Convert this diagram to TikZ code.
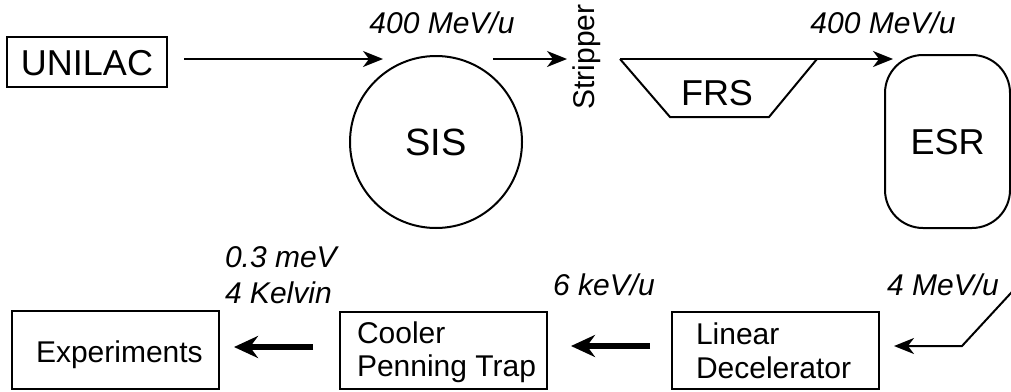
\documentclass[tikz,border=0pt]{standalone}
\usepackage{fontspec}
\setmainfont{Liberation Sans}
\usetikzlibrary{arrows.meta}
\begin{document}
\begin{tikzpicture}[x=1pt,y=-1pt,line width=2pt,
  box/.style={draw,line width=2pt,inner sep=0pt},
  lbl/.style={font=\fontsize{30}{36}\selectfont,inner sep=0pt},
  ital/.style={font=\fontsize{30}{36}\selectfont\itshape,inner sep=0pt},
  big/.style={font=\fontsize{36}{43}\selectfont,text height=26pt,text depth=0pt},
  arr/.style={line width=2pt,-{Stealth[length=20pt,width=16pt,inset=6pt]}},
  thickarr/.style={line width=6pt,-{Stealth[length=24pt,width=22pt,inset=8pt]}}]
\useasboundingbox (0,0) rectangle (1011,391);
\clip (0,0) rectangle (1011,391);
% top row
\node[box,big,minimum width=160pt,minimum height=50pt] (unilac) at (87,62) {UNILAC};
\node[circle,draw,line width=2pt,minimum size=172pt,inner sep=0pt,font=\fontsize{38}{46}\selectfont,text height=27pt,text depth=0pt] (sis) at (436,142) {SIS};
\node[draw,line width=2pt,rounded corners=38pt,minimum width=125pt,minimum height=173pt,inner sep=0pt,big] (esr) at (947.5,141.5) {ESR};
\node[lbl,rotate=90,anchor=base] (stripper) at (594,57) {Stripper};
% FRS trapezoid
\coordinate (frsTL) at (620,59);
\coordinate (frsBL) at (670,117);
\coordinate (frsBR) at (769,117);
\coordinate (frsTR) at (817,59);
\draw[line width=2pt,line join=miter] (frsTL) -- (frsBL) -- (frsBR) -- (frsTR);
\node[big,inner sep=0pt] (frs) at (717,92) {FRS};
% top arrows
\coordinate (a1s) at (184,59);
\coordinate (a1e) at (383,59);
\draw[arr] (a1s) -- (a1e);
\coordinate (a2s) at (493,59);
\coordinate (a2e) at (567,59);
\draw[arr] (a2s) -- (a2e);
\coordinate (a3e) at (893,59);
\draw[arr] (frsTL) -- (a3e);
\node[ital,anchor=base] (e1) at (442,33) {400 MeV/u};
\node[ital,anchor=base] (e2) at (883,33) {400 MeV/u};
% bottom row
\node[box,minimum width=207pt,minimum height=78pt] (exp) at (115.5,350) {};
\node[lbl,anchor=base west] at (35,362.5) {Experiments};
\node[box,minimum width=207pt,minimum height=77pt] (cool) at (443.5,350.5) {};
\node[lbl,anchor=base west] at (356,343) {Cooler};
\node[lbl,anchor=base west] at (356,376) {Penning Trap};
\node[box,minimum width=207pt,minimum height=77pt] (lin) at (775.5,350.5) {};
\node[lbl,anchor=base west] at (695,344) {Linear};
\node[lbl,anchor=base west] at (695,378) {Decelerator};
% bottom arrows
\coordinate (r0) at (1022,281);
\coordinate (r1) at (962,346);
\coordinate (r2) at (894,346);
\draw[arr,line join=miter] (r0) -- (r1) -- (r2);
\coordinate (b1s) at (650,346);
\coordinate (b1e) at (571,346);
\draw[thickarr] (b1s) -- (b1e);
\coordinate (b2s) at (313,347);
\coordinate (b2e) at (234,347);
\draw[thickarr] (b2s) -- (b2e);
\node[ital,anchor=base] (e3) at (943,295) {4 MeV/u};
\node[ital,anchor=base] (e4) at (604,295) {6 keV/u};
\node[ital,anchor=base west] (e5) at (224,267) {0.3 meV};
\node[ital,anchor=base west] (e6) at (224,303) {4 Kelvin};
\end{tikzpicture}
\end{document}
